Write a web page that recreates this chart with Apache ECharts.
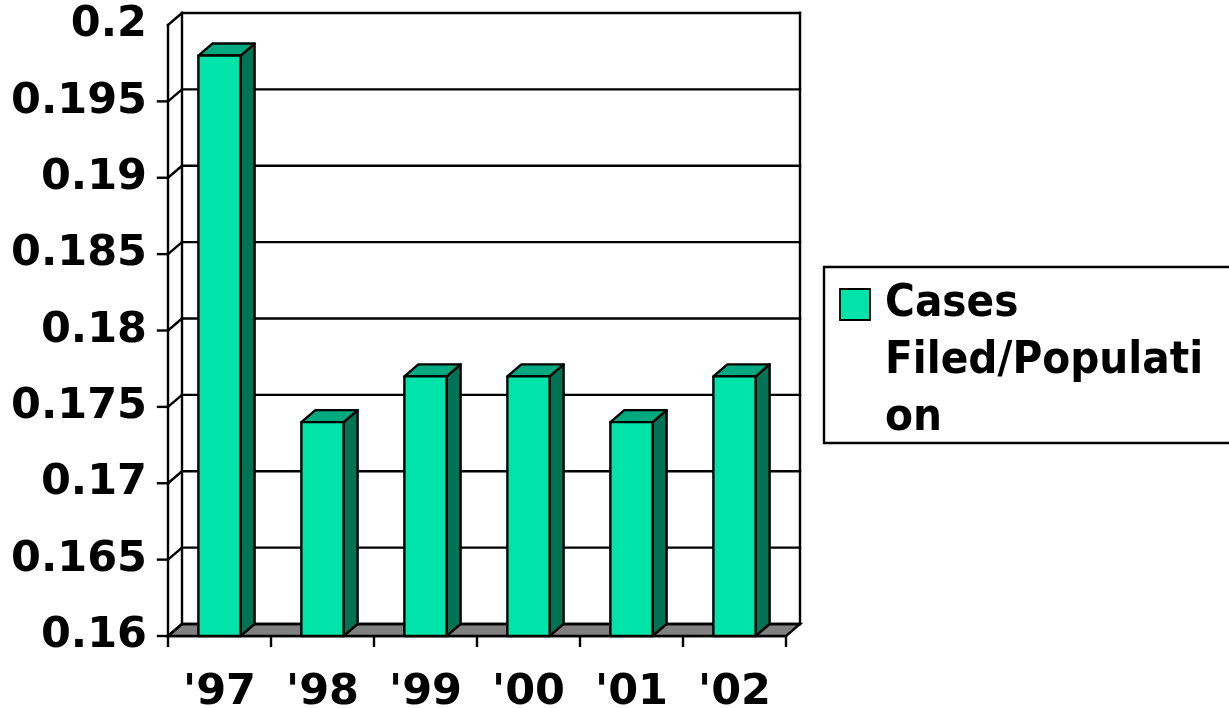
<!DOCTYPE html>
<html>
<head>
<meta charset="utf-8">
<script src="https://cdn.jsdelivr.net/npm/echarts@6/dist/echarts.min.js"></script>
<style>
  html, body { margin: 0; padding: 0; background: #ffffff; }
  #chart { width: 1229px; height: 708px; }
</style>
</head>
<body>
<div id="chart"></div>
<script>
// Court caseload ratio by year
const categories = ["'97", "'98", "'99", "'00", "'01", "'02"];
const casesPerPopulation = [0.198, 0.174, 0.177, 0.177, 0.174, 0.177];
const yTicks = [0.16, 0.165, 0.17, 0.175, 0.18, 0.185, 0.19, 0.195, 0.2];
const seriesName = 'Cases Filed/Population';
const legendLines = ['Cases', 'Filed/Populati', 'on'];

// styling
const FONT = 'DejaVu Sans';
const FRONT = '#00E4A9';
const TOP = '#00A97E';
const SIDE = '#007355';
const FLOOR = '#808080';
const LW = 2.4;         // outline width
const DX = 14;          // depth offset of the back wall, x
const DY = -12;         // depth offset of the back wall, y
const TICK = 10;
const BAR_RATIO = 0.41;

const chart = echarts.init(document.getElementById('chart'), null, { renderer: 'canvas' });

function seg(xa, ya, xb, yb) {
  return {
    type: 'line',
    shape: { x1: xa, y1: ya, x2: xb, y2: yb },
    style: { stroke: '#000', lineWidth: LW, lineCap: 'square' }
  };
}

// back wall, side wall, floor and left ticks
function renderFrame(params, api) {
  const cs = params.coordSys;
  const x0 = cs.x, x1 = cs.x + cs.width;
  const yMin = yTicks[0], yMax = yTicks[yTicks.length - 1];
  const yBase = api.coord([0, yMin])[1];
  const yTop = api.coord([0, yMax])[1];
  const children = [];
  children.push({
    type: 'polygon',
    shape: { points: [[x0, yBase], [x1, yBase], [x1 + DX, yBase + DY], [x0 + DX, yBase + DY]] },
    style: { fill: FLOOR, stroke: '#000', lineWidth: LW }
  });
  yTicks.forEach(function (v) {
    const y = api.coord([0, v])[1];
    children.push(seg(x0, y, x0 + DX, y + DY));
    children.push(seg(x0 + DX, y + DY, x1 + DX, y + DY));
    if (v < yMax) children.push(seg(x0 - TICK, y, x0, y));
  });
  children.push(seg(x0 + DX, yTop + DY, x0 + DX, yBase + DY));
  children.push(seg(x1 + DX, yTop + DY, x1 + DX, yBase + DY));
  return { type: 'group', children: children };
}

// one 3D column: front face, top face, right side face
function renderBar(params, api) {
  const idx = api.value(0);
  const val = api.value(1);
  const top = api.coord([idx, val]);
  const base = api.coord([idx, yTicks[0]]);
  const w = api.size([1, 0])[0] * BAR_RATIO;
  const L = top[0] - w / 2, R = top[0] + w / 2;
  const yT = top[1], yB = base[1];
  const edge = { stroke: '#000', lineWidth: LW, lineJoin: 'round' };
  return {
    type: 'group',
    children: [
      {
        type: 'polygon',
        shape: { points: [[R, yT], [R + DX, yT + DY], [R + DX, yB + DY], [R, yB]] },
        style: Object.assign({ fill: SIDE }, edge)
      },
      {
        type: 'polygon',
        shape: { points: [[L, yT], [L + DX, yT + DY], [R + DX, yT + DY], [R, yT]] },
        style: Object.assign({ fill: TOP }, edge)
      },
      {
        type: 'rect',
        shape: { x: L, y: yT, width: w, height: yB - yT },
        style: Object.assign({ fill: FRONT }, edge)
      }
    ]
  };
}

const option = {
  backgroundColor: '#ffffff',
  animation: false,
  grid: { left: 168, top: 25, width: 618, height: 611, outerBoundsMode: 'none' },
  xAxis: {
    type: 'category',
    data: categories,
    boundaryGap: true,
    axisLine: { show: true, lineStyle: { color: '#000', width: LW } },
    axisTick: { show: true, length: 11, alignWithLabel: false, lineStyle: { color: '#000', width: LW } },
    axisLabel: { color: '#000', fontFamily: FONT, fontWeight: 'bold', fontSize: 43, margin: 35 },
    splitLine: { show: false }
  },
  yAxis: {
    type: 'value',
    min: yTicks[0],
    max: yTicks[yTicks.length - 1],
    interval: 0.005,
    axisLine: { show: true, lineStyle: { color: '#000', width: LW } },
    axisTick: { show: false },
    axisLabel: {
      color: '#000', fontFamily: FONT, fontWeight: 'bold', fontSize: 43, margin: 21,
      formatter: function (v) { return String(parseFloat(v.toFixed(3))); }
    },
    splitLine: { show: false }
  },
  series: [
    {
      type: 'custom',
      name: 'frame',
      renderItem: renderFrame,
      data: [[0, yTicks[0]]],
      encode: { x: 0, y: 1 },
      silent: true,
      z: 1
    },
    {
      type: 'custom',
      name: seriesName,
      renderItem: renderBar,
      data: categories.map(function (c, i) { return [i, casesPerPopulation[i]]; }),
      encode: { x: 0, y: 1 },
      z: 2
    }
  ],
  graphic: [
    {
      type: 'rect',
      shape: { x: 824, y: 267, width: 440, height: 176 },
      style: { fill: '#fff', stroke: '#000', lineWidth: LW }
    },
    {
      type: 'rect',
      shape: { x: 840, y: 289, width: 30, height: 31 },
      style: { fill: FRONT, stroke: '#000', lineWidth: 1.8 }
    },
    {
      type: 'text',
      x: 885,
      y: 276,
      scaleX: 0.905,
      style: {
        x: 0, y: 0,
        text: legendLines.join('\n'),
        fontFamily: FONT, fontWeight: 'bold', fontSize: 45, lineHeight: 57,
        fill: '#000', verticalAlign: 'top', align: 'left'
      }
    }
  ]
};

chart.setOption(option);
</script>
</body>
</html>
